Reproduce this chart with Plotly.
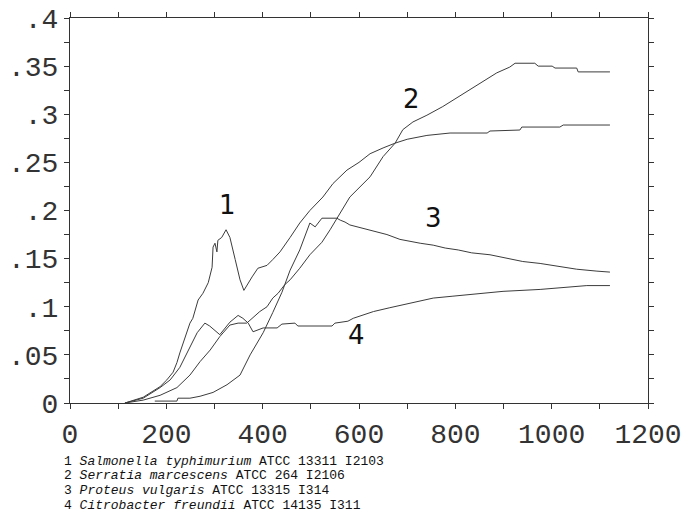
import plotly.graph_objects as go

# ---- data ----
s1_x = [114,152,187,201,214,222,228,235,249,255,266,276,287,295,297,301,305,307,315,324,332,343,353,361,370,378,390,409,421,436,457,477,498,525,546,575,600,623,650,675,700,741,789,866,872,934,938,1017,1024,1121]
s1_y = [0,0.006,0.017,0.024,0.032,0.042,0.052,0.062,0.083,0.088,0.107,0.114,0.125,0.141,0.162,0.166,0.157,0.169,0.172,0.180,0.172,0.149,0.128,0.117,0.125,0.131,0.140,0.143,0.149,0.157,0.172,0.187,0.200,0.214,0.228,0.242,0.250,0.259,0.265,0.270,0.274,0.278,0.2805,0.2805,0.2826,0.2836,0.2867,0.2867,0.2888,0.2888]

s2_x = [114,152,187,222,249,270,291,311,332,349,367,374,380,394,409,421,432,446,457,477,498,523,540,554,581,623,650,675,691,712,741,774,803,830,858,886,913,924,965,972,1001,1007,1052,1055,1121]
s2_y = [0,0.003,0.008,0.016,0.029,0.043,0.055,0.069,0.081,0.083,0.083,0.086,0.089,0.095,0.100,0.109,0.114,0.123,0.128,0.140,0.154,0.167,0.180,0.192,0.214,0.235,0.256,0.270,0.284,0.292,0.299,0.308,0.317,0.325,0.334,0.343,0.349,0.353,0.353,0.350,0.350,0.348,0.348,0.344,0.344]

s3_x = [176,222,224,249,270,297,326,353,374,401,421,440,457,477,498,509,523,554,561,571,581,596,617,630,640,658,685,712,727,754,779,806,834,872,899,940,976,1013,1052,1094,1121]
s3_y = [0.002,0.002,0.005,0.005,0.007,0.011,0.019,0.029,0.050,0.073,0.094,0.115,0.138,0.159,0.187,0.183,0.192,0.192,0.190,0.188,0.185,0.183,0.180,0.178,0.177,0.175,0.170,0.167,0.166,0.164,0.161,0.159,0.156,0.154,0.151,0.147,0.145,0.142,0.139,0.137,0.136]

s4_x = [114,152,187,208,228,249,264,280,290,311,332,349,359,370,380,401,430,440,467,473,544,550,577,588,608,630,664,691,712,754,795,851,899,976,1073,1121]
s4_y = [0,0.005,0.016,0.024,0.037,0.058,0.073,0.083,0.080,0.071,0.084,0.091,0.088,0.083,0.074,0.078,0.078,0.082,0.083,0.080,0.080,0.083,0.085,0.088,0.091,0.095,0.099,0.102,0.105,0.109,0.111,0.114,0.116,0.118,0.122,0.122]

curve_labels = ["1", "2", "3", "4"]
label_x = [328, 710, 754, 594]
label_y = [0.2057, 0.3158, 0.1922, 0.0707]

y_tickvals = [0, 0.05, 0.1, 0.15, 0.2, 0.25, 0.3, 0.35, 0.4]
y_ticktext = ["0", ".05", ".1", ".15", ".2", ".25", ".3", ".35", ".4"]
x_tickvals = [0, 200, 400, 600, 800, 1000, 1200]

legend_lines = [
    "1 <i>Salmonella typhimurium</i> ATCC 13311 I2103",
    "2 <i>Serratia marcescens</i> ATCC 264 I2106",
    "3 <i>Proteus vulgaris</i> ATCC 13315 I314",
    "4 <i>Citrobacter freundii</i> ATCC 14135 I311",
]

LINE = "#3c3c3c"
AX = "#333333"
MONO = "Liberation Mono, DejaVu Sans Mono, monospace"

fig = go.Figure()
for xs, ys in [(s1_x, s1_y), (s2_x, s2_y), (s3_x, s3_y), (s4_x, s4_y)]:
    fig.add_trace(go.Scatter(x=xs, y=ys, mode="lines",
                             line=dict(color=LINE, width=1), showlegend=False,
                             hoverinfo="skip"))

for t, lx, ly in zip(curve_labels, label_x, label_y):
    fig.add_annotation(x=lx, y=ly, text=t, showarrow=False,
                       font=dict(family="DejaVu Sans", size=26, color="#111"),
                       xanchor="center", yanchor="middle")

legend_offsets = [58, 72, 87, 102]
for line, off in zip(legend_lines, legend_offsets):
    fig.add_annotation(x=0, y=0, xref="paper", yref="paper", text=line,
                       showarrow=False, xanchor="left", yanchor="middle",
                       xshift=-8, yshift=-off,
                       font=dict(family=MONO, size=13, color="#111"))

axis_common = dict(showline=True, linecolor=AX, linewidth=1, mirror="allticks",
                   ticks="outside", ticklen=5, tickcolor=AX, tickwidth=1,
                   showgrid=False, zeroline=False, automargin=False,
                   tickfont=dict(family=MONO, size=28, color="#333"))

fig.update_xaxes(range=[0, 1200], tickmode="array", tickvals=x_tickvals,
                 minor=dict(dtick=100, tick0=0, ticks="outside", ticklen=5,
                            tickcolor=AX, showgrid=False),
                 **axis_common)
fig.update_yaxes(range=[0, 0.4], tickmode="array", tickvals=y_tickvals,
                 ticktext=y_ticktext,
                 minor=dict(dtick=0.025, tick0=0, ticks="outside", ticklen=5,
                            tickcolor=AX, showgrid=False),
                 **axis_common)

fig.update_layout(width=698, height=519,
                  margin=dict(l=70, r=50, t=18, b=116, autoexpand=False),
                  plot_bgcolor="white", paper_bgcolor="white",
                  showlegend=False)

fig.write_html("out.html", config={"displayModeBar": False},
               post_script="document.body.style.margin='0px';document.body.style.overflow='hidden';")
